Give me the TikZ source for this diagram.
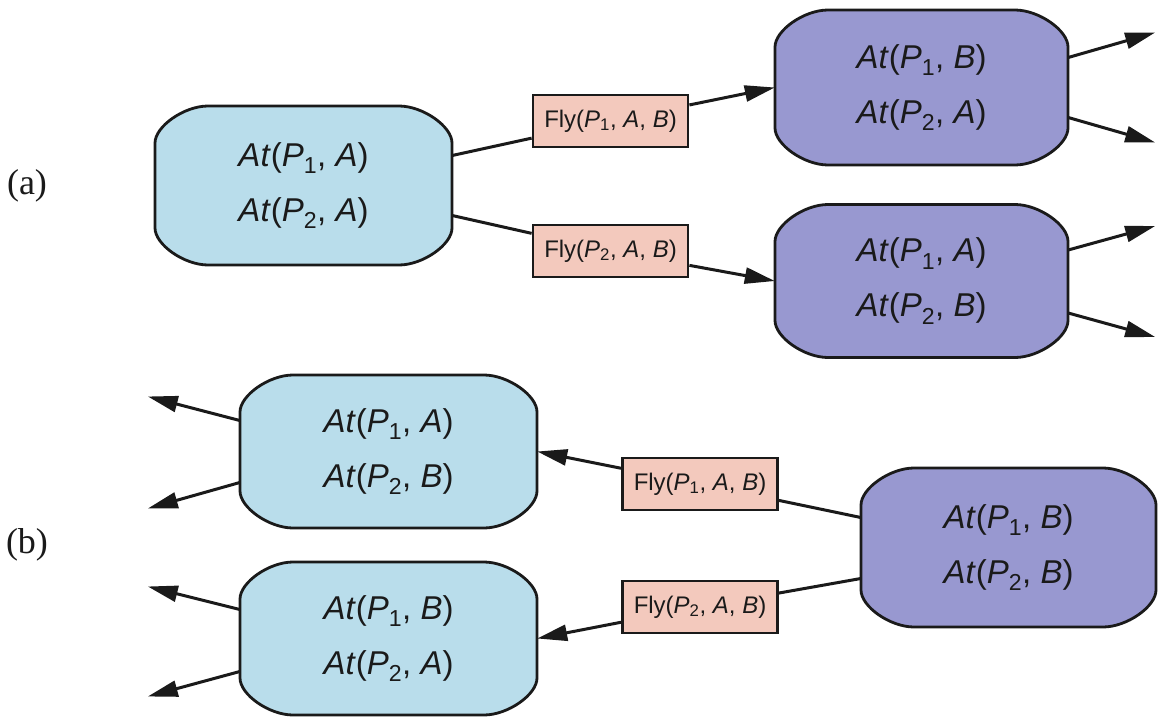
\documentclass[tikz,border=0pt]{standalone}
\usepackage{fontspec}
\setmainfont{Liberation Sans}
\newfontfamily\serifX{Liberation Serif}
\usetikzlibrary{arrows.meta,calc}
\definecolor{stblue}{RGB}{185,221,235}
\definecolor{stpurple}{RGB}{152,152,208}
\definecolor{flypink}{RGB}{243,201,189}
\definecolor{ink}{RGB}{26,26,26}
\newcommand{\AtX}[2]{\textit{At}(\textit{P}\textsubscript{#1}, \textit{#2})}
\newcommand{\FlyX}[1]{Fly(\textit{P}\textsubscript{#1}, \textit{A}, \textit{B})}
\newcommand{\stnode}[7]{%
  \path[draw=ink,line width=2.8pt,fill=#6,shift={(#2,#3)}]
   ({-#4/2+53},{-#5/2}) -- ({#4/2-53},{-#5/2})
   .. controls ({#4/2-53*0.55},{-#5/2}) and ({#4/2},{-#5/2+37*0.55}) .. ({#4/2},{-#5/2+37})
   -- ({#4/2},{#5/2-37})
   .. controls ({#4/2},{#5/2-37*0.55}) and ({#4/2-53*0.55},{#5/2}) .. ({#4/2-53},{#5/2})
   -- ({-#4/2+53},{#5/2})
   .. controls ({-#4/2+53*0.55},{#5/2}) and ({-#4/2},{#5/2-37*0.55}) .. ({-#4/2},{#5/2-37})
   -- ({-#4/2},{-#5/2+37})
   .. controls ({-#4/2},{-#5/2+37*0.55}) and ({-#4/2+53*0.55},{-#5/2}) .. cycle;
  \node[sttext,minimum width=#4pt,minimum height=#5pt] (#1) at (#2,#3) {#7};}
\begin{document}
\begin{tikzpicture}[x=1pt,y=-1pt,
  sttext/.style={align=center,inner sep=0pt,text=ink,font=\fontsize{33}{55}\selectfont},
  conn/.style={draw=ink,line width=3pt},
  arr/.style={conn,-{Triangle[length=30pt,width=16pt]}},
  flybox/.style={draw=ink,line width=2.8pt,fill=flypink,minimum width=155pt,minimum height=52pt,inner sep=0pt,text=ink,font=\fontsize{24}{28}\selectfont},
  lbl/.style={font=\serifX\fontsize{36}{38}\selectfont,text=ink}]
\useasboundingbox[fill=white] (0,0) rectangle (1161,717);

\stnode{a0}{303.5}{185.5}{297}{159}{stblue}{\AtX{1}{A}\\\AtX{2}{A}}
\stnode{a1}{921.5}{87.5}{293}{155}{stpurple}{\AtX{1}{B}\\\AtX{2}{A}}
\stnode{a2}{921.5}{281}{293}{153}{stpurple}{\AtX{1}{A}\\\AtX{2}{B}}
\stnode{b1}{388.5}{451.5}{297}{153}{stblue}{\AtX{1}{A}\\\AtX{2}{B}}
\stnode{b2}{388.5}{638.5}{297}{153}{stblue}{\AtX{1}{B}\\\AtX{2}{A}}
\stnode{b0}{1008.5}{547.5}{295}{159}{stpurple}{\AtX{1}{B}\\\AtX{2}{B}}

\node[flybox] (fa1) at (610.5,121) {\FlyX{1}};
\node[flybox] (fa2) at (610.5,251) {\FlyX{2}};
\node[flybox] (fb1) at (700,484) {\FlyX{1}};
\node[flybox] (fb2) at (700,607) {\FlyX{2}};

\node[lbl] (la) at (27,186) {(a)};
\node[lbl] (lb) at (27,545) {(b)};

% (a)
\draw[conn] ($(a0.east)+(0,-30)$) -- (fa1);
\draw[arr] (fa1) -- (a1.west);
\draw[conn] ($(a0.east)+(0,30)$) -- (fa2);
\draw[arr] (fa2) -- (a2.west);

\coordinate (a1u) at ($(a1.east)+(87,-55)$);
\coordinate (a1d) at ($(a1.east)+(87,55)$);
\coordinate (a2u) at ($(a2.east)+(87,-55)$);
\coordinate (a2d) at ($(a2.east)+(87,56)$);
\draw[arr] ($(a1.east)+(0,-30)$) -- (a1u);
\draw[arr] ($(a1.east)+(0,30)$) -- (a1d);
\draw[arr] ($(a2.east)+(0,-31)$) -- (a2u);
\draw[arr] ($(a2.east)+(0,32)$) -- (a2d);

% (b)
\draw[conn] ($(b0.west)+(0,-30)$) -- (fb1);
\draw[arr] (fb1) -- (b1.east);
\draw[conn] ($(b0.west)+(0,31)$) -- (fb2);
\draw[arr] (fb2) -- (b2.east);

\coordinate (b1u) at ($(b1.west)+(-92,-55)$);
\coordinate (b1d) at ($(b1.west)+(-92,57)$);
\coordinate (b2u) at ($(b2.west)+(-92,-52)$);
\coordinate (b2d) at ($(b2.west)+(-92,58)$);
\draw[arr] ($(b1.west)+(0,-31)$) -- (b1u);
\draw[arr] ($(b1.west)+(0,31)$) -- (b1d);
\draw[arr] ($(b2.west)+(0,-29)$) -- (b2u);
\draw[arr] ($(b2.west)+(0,33)$) -- (b2d);
\end{tikzpicture}
\end{document}
